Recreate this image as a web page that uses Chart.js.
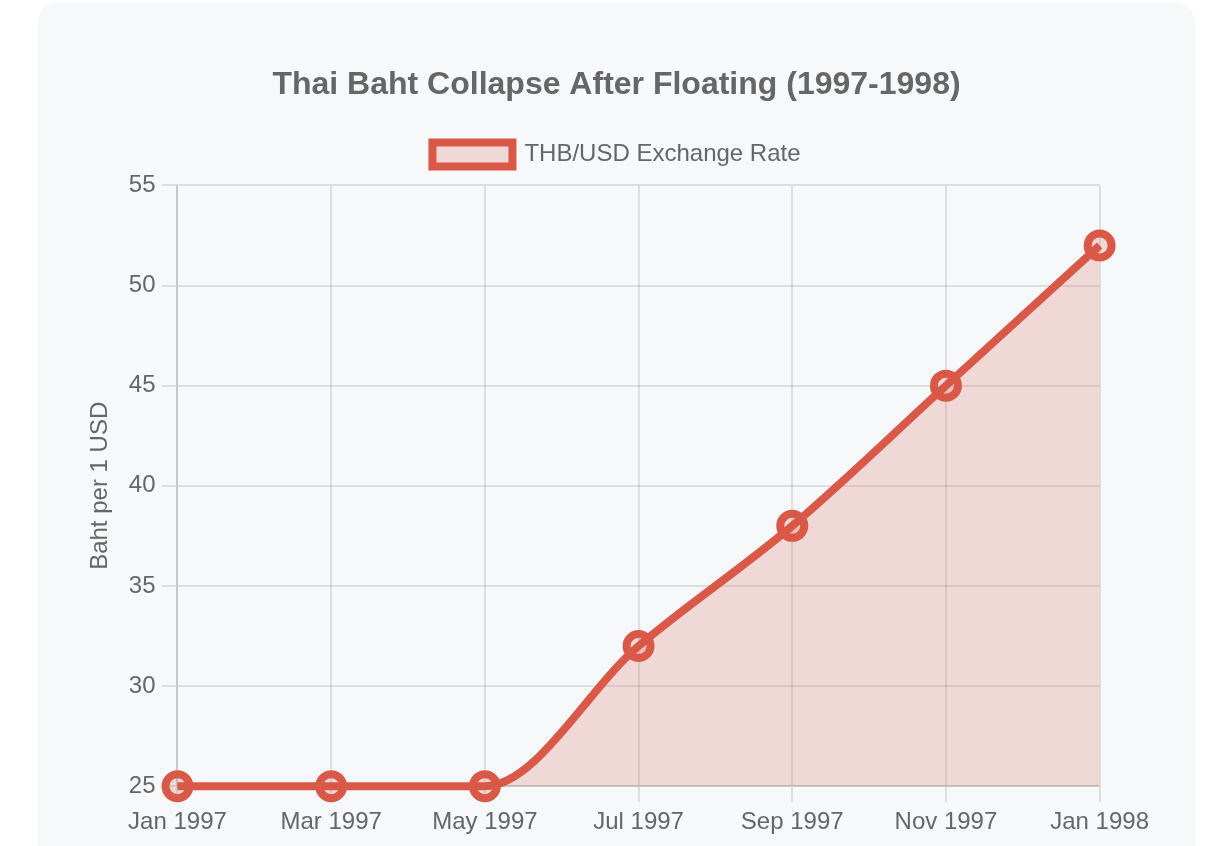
<!DOCTYPE html>
<html>
<head>
<meta charset="utf-8">
<script src="https://cdn.jsdelivr.net/npm/chart.js@4"></script>
<style>
  html, body { margin: 0; padding: 0; background: #ffffff; overflow: hidden; }
  .card {
    position: absolute; left: 38px; top: 2px; width: 1077px;
    padding: 44px 40px 40px 40px; background: #f7f8fa; border-radius: 20px;
  }
  .wrap { position: relative; width: 1077px; height: 797px; }
</style>
</head>
<body>
<div class="card"><div class="wrap"><canvas id="c"></canvas></div></div>
<script>
const categories = ["Jan 1997", "Mar 1997", "May 1997", "Jul 1997", "Sep 1997", "Nov 1997", "Jan 1998"];
const rateValues = [25, 25, 25, 32, 38, 45, 52];
const seriesLabel = "THB/USD Exchange Rate";
const chartTitle = "Thai Baht Collapse After Floating (1997-1998)";
const yAxisTitle = "Baht per 1 USD";
const yMin = 25, yMax = 55, yStep = 5;

const FONT = "'Helvetica Neue', Helvetica, Arial, 'Liberation Sans', sans-serif";
Chart.defaults.font.family = FONT;
Chart.defaults.color = '#666';

const legendSpacing = {
  id: 'legendSpacing',
  beforeInit(chart) {
    const origFit = chart.legend.fit;
    chart.legend.fit = function () {
      origFit.call(this);
      this.height += 9;
    };
  }
};

new Chart(document.getElementById('c'), {
  type: 'line',
  data: {
    labels: categories,
    datasets: [{
      label: seriesLabel,
      data: rateValues,
      borderColor: 'rgb(217, 88, 72)',
      backgroundColor: 'rgba(217, 88, 72, 0.2)',
      borderWidth: 8,
      pointRadius: 12,
      pointBorderWidth: 8,
      pointBackgroundColor: 'rgba(217, 88, 72, 0.2)',
      pointBorderColor: 'rgb(217, 88, 72)',
      fill: true,
      clip: false,
      cubicInterpolationMode: 'monotone'
    }]
  },
  plugins: [legendSpacing],
  options: {
    responsive: true,
    maintainAspectRatio: false,
    devicePixelRatio: 1,
    animation: false,
    plugins: {
      title: {
        display: true, text: chartTitle, color: '#666',
        font: { size: 32, weight: 'bold', family: FONT },
        padding: { top: 20, bottom: 10 }
      },
      legend: {
        labels: { boxWidth: 80, font: { size: 24, family: FONT }, padding: 28 }
      },
      tooltip: { enabled: false }
    },
    scales: {
      x: {
        grid: { lineWidth: 2, tickLength: 16 },
        border: { width: 2 },
        ticks: { font: { size: 24, family: FONT }, padding: 6 }
      },
      y: {
        min: yMin, max: yMax,
        grid: { lineWidth: 2, tickLength: 16 },
        border: { width: 2 },
        ticks: { stepSize: yStep, font: { size: 24, family: FONT }, padding: 6 },
        title: { display: true, text: yAxisTitle, font: { size: 24, family: FONT }, padding: 8 }
      }
    }
  }
});
</script>
</body>
</html>
